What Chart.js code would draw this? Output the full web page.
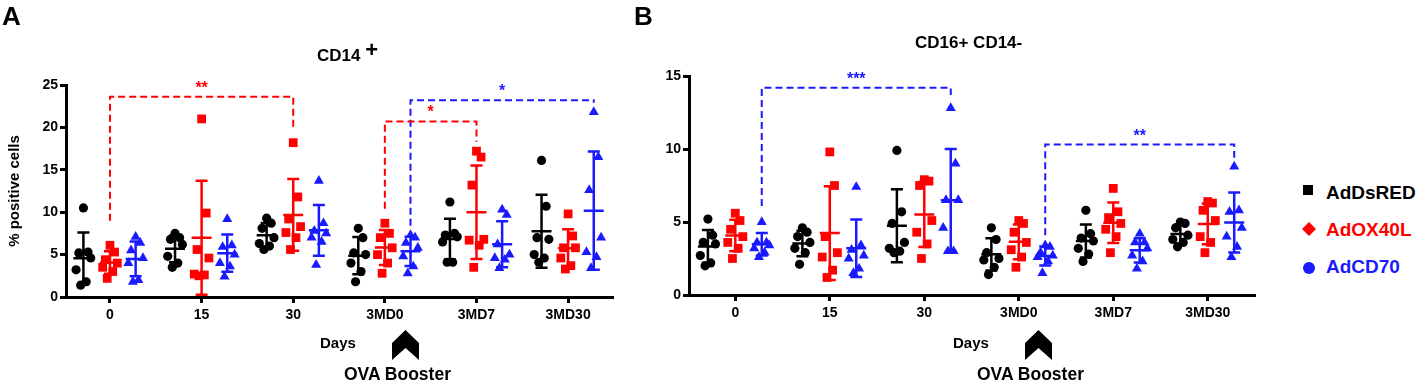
<!DOCTYPE html>
<html>
<head>
<meta charset="utf-8">
<title>CD14+ / CD16+ CD14-</title>
<script src="https://cdn.jsdelivr.net/npm/chart.js@4.4.1/dist/chart.umd.min.js"></script>
<style>
  body { margin: 0; width: 1422px; height: 385px; position: relative; overflow: hidden; background: #fff;
         font-family: "Liberation Sans", Arial, sans-serif; font-weight: bold; color: #000; }
  canvas { position: absolute; top: 0; }
  .t { position: absolute; white-space: nowrap; line-height: 1; transform: translateY(-50%); }
  .leg { position: absolute; left: 1326px; font-size: 19px; line-height: 1; transform: translateY(-50%); white-space: nowrap; }
  svg { position: absolute; overflow: visible; }
</style>
</head>
<body>
<canvas id="chartA" width="640" height="385" style="left:0"></canvas>
<canvas id="chartB" width="640" height="385" style="left:640px"></canvas>

<div class="t" style="left:2px;top:16px;font-size:26px">A</div>
<div class="t" style="left:634px;top:16px;font-size:26px">B</div>
<div class="t" style="left:317px;top:54px;font-size:17px">CD14 <span style="font-size:22px;position:relative;top:-4px">+</span></div>
<div class="t" style="left:915px;top:42px;font-size:17px">CD16+ CD14-</div>
<div class="t" style="left:13px;top:191px;font-size:15px;transform:translate(-50%,-50%) rotate(-90deg)">% positive cells</div>

<div class="t" style="left:320px;top:342px;font-size:15px">Days</div>
<div class="t" style="left:344px;top:375px;font-size:17.5px">OVA Booster</div>
<svg style="left:392px;top:330px" width="27" height="30"><polygon points="13.5,0 27,13 27,30 13.5,18 0,30 0,13" fill="#000"/></svg>

<div class="t" style="left:953px;top:342px;font-size:15px">Days</div>
<div class="t" style="left:977px;top:375px;font-size:17.5px">OVA Booster</div>
<svg style="left:1025px;top:330px" width="27" height="30"><polygon points="13.5,0 27,13 27,30 13.5,18 0,30 0,13" fill="#000"/></svg>

<svg style="left:1303px;top:185px" width="10" height="10"><rect width="10" height="10" fill="#000"/></svg>
<div class="leg" style="top:192px;color:#000">AdDsRED</div>
<svg style="left:1302px;top:222px" width="14" height="14"><polygon points="7,0 14,7 7,14 0,7" fill="#ff0000"/></svg>
<div class="leg" style="top:229px;color:#ff0000">AdOX40L</div>
<svg style="left:1303px;top:262px" width="12" height="12"><circle cx="6" cy="6" r="6" fill="#1a1aff"/></svg>
<div class="leg" style="top:266px;color:#1a1aff">AdCD70</div>

<script>
const DAYS = ['0', '15', '30', '3MD0', '3MD7', '3MD30'];
const GROUPS = ['AdDsRED', 'AdOX40L', 'AdCD70'];

// panel A: CD14+ (% positive cells), one row per day, 7 mice each
const cd14DsRed = [
    [10.5, 5.3, 5.2, 4.6, 3.2, 1.8, 1.4],
    [7.5, 7.0, 6.8, 6.2, 4.8, 4.0, 3.5],
    [9.3, 8.7, 8.1, 7.0, 6.3, 6.0, 5.6],
    [8.1, 7.0, 5.2, 5.0, 4.0, 3.0, 1.8],
    [11.2, 7.5, 7.3, 7.1, 6.5, 4.1, 4.1],
    [16.1, 10.7, 7.0, 6.8, 5.0, 4.6, 4.1]
];
const cd14Ox40l = [
    [6.1, 5.3, 4.4, 4.0, 3.5, 3.0, 2.2],
    [21.0, 9.9, 5.6, 4.6, 2.7, 2.6, 2.5],
    [18.2, 11.8, 9.2, 8.3, 7.6, 7.0, 5.6],
    [8.7, 7.5, 7.0, 5.8, 5.0, 4.0, 2.8],
    [17.2, 16.5, 13.2, 6.8, 6.7, 6.1, 3.5],
    [9.8, 7.2, 5.8, 5.8, 4.6, 3.7, 3.3]
];
const cd14Cd70 = [
    [7.1, 6.4, 5.5, 4.6, 4.0, 2.0, 1.8],
    [9.2, 6.1, 5.9, 5.0, 4.0, 3.6, 2.4],
    [13.7, 8.7, 7.8, 7.5, 7.0, 6.5, 3.8],
    [7.3, 7.0, 6.4, 5.8, 4.8, 3.6, 2.8],
    [10.3, 9.7, 6.2, 5.0, 4.6, 4.4, 3.4],
    [21.8, 16.5, 12.6, 7.0, 5.3, 4.7, 3.4]
];

// panel B: CD16+ CD14-
const cd16DsRed = [
    [5.2, 4.1, 3.6, 3.5, 2.7, 2.2, 2.0],
    [4.6, 4.3, 4.0, 3.6, 3.2, 2.9, 2.1],
    [9.9, 5.7, 4.9, 3.6, 3.2, 3.0, 2.9],
    [4.6, 3.8, 2.9, 2.5, 2.4, 1.9, 1.4],
    [5.8, 4.2, 3.9, 3.7, 3.2, 2.8, 2.3],
    [5.0, 4.9, 4.6, 4.1, 3.8, 3.6, 3.3]
];
const cd16Ox40l = [
    [5.6, 5.1, 4.5, 4.0, 3.6, 3.2, 2.5],
    [9.8, 7.5, 4.0, 2.9, 2.6, 1.7, 1.2],
    [7.9, 7.8, 7.5, 5.1, 4.3, 3.5, 2.5],
    [5.1, 4.9, 4.3, 3.6, 3.1, 2.6, 1.9],
    [7.3, 5.7, 5.3, 4.9, 4.5, 4.0, 2.9],
    [6.4, 6.3, 5.8, 5.1, 4.0, 3.6, 2.9]
];
const cd16Cd70 = [
    [5.0, 3.6, 3.6, 3.4, 3.2, 2.9, 2.6],
    [7.4, 3.4, 3.1, 2.7, 2.5, 1.8, 1.5],
    [12.8, 9.0, 6.5, 6.5, 4.6, 3.0, 3.0],
    [3.4, 3.3, 2.9, 2.7, 2.6, 2.3, 1.5],
    [4.2, 3.6, 3.6, 3.2, 2.7, 2.3, 1.8],
    [8.8, 5.8, 5.7, 4.6, 4.0, 3.3, 2.6]
];

// significance brackets (series index, from day, to day, y values of the dashed line)
const cd14Brackets = [
    { series: 1, from: 0, to: 2, yStart: 9.0, yTop: 23.6, yEnd: 19.7, stars: '**' },
    { series: 1, from: 3, to: 4, yStart: 10.4, yTop: 20.7, yEnd: 18.3, stars: '*' },
    { series: 2, from: 3, to: 5, yStart: 8.4, yTop: 23.2, yEnd: 22.9, stars: '*' }
];
const cd16Brackets = [
    { series: 2, from: 0, to: 2, yStart: 6.1, yTop: 14.2, yEnd: 13.7, stars: '***' },
    { series: 2, from: 3, to: 5, yStart: 4.1, yTop: 10.3, yEnd: 9.4, stars: '**' }
];

const COLORS = ['#000000', '#ff0000', '#1a1aff'];
const MARKERS = ['circle', 'rect', 'triangle'];
const RADIUS = [4.6, 6.2, 5.8];
const SHIFT = [-0.29, 0, 0.28];
const JITTER = [0, 0.05, -0.05, 0.08, -0.08, 0.03, -0.03];

const mean = a => a.reduce((s, v) => s + v, 0) / a.length;
const sd = a => {
    const m = mean(a);
    return Math.sqrt(a.reduce((s, v) => s + (v - m) ** 2, 0) / (a.length - 1));
};

function makePanel(id, series, brackets, cfg) {
    const datasets = series.map((rows, si) => ({
        label: GROUPS[si],
        data: rows.flatMap((vals, gi) => vals.map((v, k) => ({ x: gi + SHIFT[si] + JITTER[k], y: v }))),
        pointStyle: MARKERS[si],
        pointRadius: RADIUS[si],
        backgroundColor: COLORS[si],
        borderColor: COLORS[si],
        borderWidth: 0,
        showLine: false
    }));

    brackets.forEach(b => {
        const x0 = b.from + SHIFT[b.series], x1 = b.to + SHIFT[b.series];
        datasets.push({
            data: [{ x: x0, y: b.yStart }, { x: x0, y: b.yTop }, { x: x1, y: b.yTop }, { x: x1, y: b.yEnd }],
            showLine: true,
            borderColor: COLORS[b.series],
            borderWidth: 2,
            borderDash: [7, 4],
            pointRadius: 0,
            fill: false
        });
    });

    // mean ± SD bars and the stars above the brackets
    const errorBars = {
        id: 'errorBars',
        afterDatasetsDraw(chart) {
            const { ctx, scales: { x, y } } = chart;
            ctx.save();
            ctx.lineWidth = 2.5;
            series.forEach((rows, si) => {
                ctx.strokeStyle = COLORS[si];
                rows.forEach((vals, gi) => {
                    const m = mean(vals), s = sd(vals);
                    const px = x.getPixelForValue(gi + SHIFT[si]);
                    const pm = y.getPixelForValue(m);
                    const pt = y.getPixelForValue(m + s);
                    const pb = y.getPixelForValue(Math.max(m - s, 0));
                    ctx.beginPath();
                    ctx.moveTo(px - 10, pm); ctx.lineTo(px + 10, pm);
                    ctx.moveTo(px, pt); ctx.lineTo(px, pb);
                    ctx.moveTo(px - 6, pt); ctx.lineTo(px + 6, pt);
                    ctx.moveTo(px - 6, pb); ctx.lineTo(px + 6, pb);
                    ctx.stroke();
                });
            });
            ctx.font = 'bold 16px "Liberation Sans", Arial, sans-serif';
            ctx.textAlign = 'center';
            ctx.textBaseline = 'alphabetic';
            brackets.forEach(b => {
                const xm = x.getPixelForValue((b.from + b.to) / 2 + SHIFT[b.series]);
                ctx.fillStyle = COLORS[b.series];
                ctx.fillText(b.stars, xm, y.getPixelForValue(b.yTop) - 4);
            });
            ctx.restore();
        }
    };

    const axisGrid = { display: true, drawOnChartArea: false, drawTicks: true, tickLength: 6, tickWidth: 3, tickColor: '#000' };
    const axisBorder = { display: true, color: '#000', width: 3 };
    const tickFont = { family: '"Liberation Sans", Arial, sans-serif', size: 14, weight: 'bold' };

    new Chart(document.getElementById(id), {
        type: 'scatter',
        data: { datasets },
        options: {
            responsive: false,
            animation: false,
            events: [],
            layout: { padding: cfg.padding },
            plugins: { legend: { display: false }, tooltip: { enabled: false } },
            scales: {
                x: {
                    type: 'linear',
                    min: cfg.xMin,
                    max: cfg.xMax,
                    afterBuildTicks: s => { s.ticks = DAYS.map((_, i) => ({ value: i })); },
                    afterFit: s => { s.height = 40; },
                    ticks: { autoSkip: false, color: '#000', font: tickFont, padding: 4, maxRotation: 0,
                             callback: v => DAYS[v] },
                    grid: axisGrid,
                    border: axisBorder
                },
                y: {
                    min: 0,
                    max: cfg.yMax,
                    afterFit: s => { s.width = cfg.yWidth; },
                    ticks: { stepSize: 5, color: '#000', font: tickFont, padding: 2 },
                    grid: axisGrid,
                    border: axisBorder
                }
            }
        },
        plugins: [errorBars]
    });
}

makePanel('chartA', [cd14DsRed, cd14Ox40l, cd14Cd70], cd14Brackets, {
    padding: { left: 20, right: 27, top: 85, bottom: 48 },
    yWidth: 46, yMax: 25, xMin: -0.48, xMax: 5.49
});
makePanel('chartB', [cd16DsRed, cd16Ox40l, cd16Cd70], cd16Brackets, {
    padding: { left: 9, right: 25, top: 76, bottom: 50 },
    yWidth: 40, yMax: 15, xMin: -0.49, xMax: 5.5
});
</script>
</body>
</html>
